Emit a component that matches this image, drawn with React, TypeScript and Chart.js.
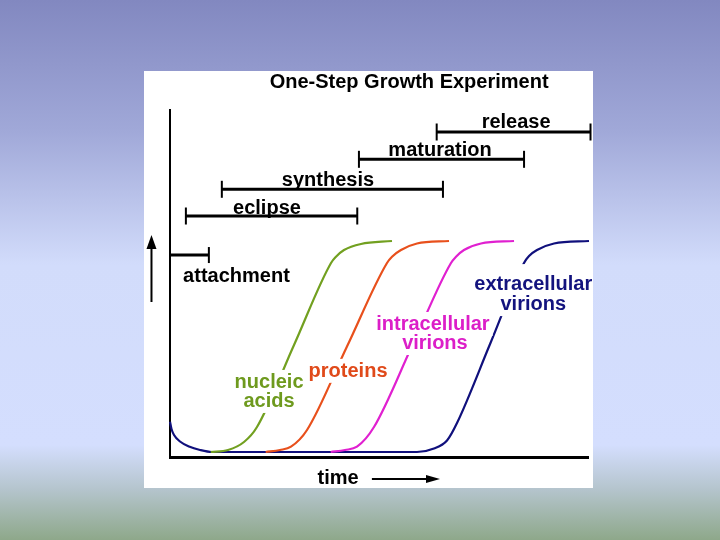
import React, { useEffect, useRef } from "react";
import { Chart, registerables } from "chart.js";

Chart.register(...registerables);

// ---- Curves (time, relative amount) ----
const nucleicTime = [9.74, 13.88, 17.7, 20.81, 29.67, 38.52, 39.71, 41.63, 45.69, 53.11];
const nucleicLevel = [1.44, 2.02, 4.32, 8.65, 32.28, 55.91, 57.72, 59.65, 61.38, 62.25];

const proteinTime = [22.89, 26.32, 28.95, 32.78, 42.34, 51.91, 53.11, 55.26, 59.09, 66.75];
const proteinLevel = [1.44, 2.02, 2.97, 7.78, 31.84, 55.91, 57.72, 59.65, 61.53, 62.25];

const intraTime = [38.44, 41.87, 44.74, 48.8, 58.01, 67.22, 68.42, 70.33, 74.4, 82.3];
const intraLevel = [1.44, 2.02, 2.97, 8.65, 32.28, 55.91, 57.72, 59.65, 61.53, 62.25];

const extraTime = [0, 0.36, 0.96, 2.39, 4.55, 7.18, 10.05, 59.09, 63.16, 66.27, 68.66, 76.67, 84.69, 85.89, 87.8, 91.87, 100.24];
const extraLevel = [10.17, 8.07, 6.34, 4.47, 3.03, 2.02, 1.44, 1.44, 2.45, 4.76, 9.8, 32.85, 55.91, 57.93, 59.65, 61.53, 62.25];

// ---- Phases ----
const phaseNames = ["attachment", "eclipse", "synthesis", "maturation", "release"];
const phaseStart = [0, 3.8, 12.4, 45.2, 63.8];
const phaseEnd = [9.3, 44.8, 65.3, 84.7, 100.6];
const phaseLevel = [58.2, 69.45, 77.15, 85.79, 93.66];

// ---- Text ----
const titleText = "One-Step Growth Experiment";
const axisText = "time";
const seriesNames = ["nucleic\nacids", "proteins", "intracellular\nvirions", "extracellular\nvirions"];

const zip = (xs: number[], ys: number[]) => xs.map((x, i) => ({ x, y: ys[i] }));

// label anchors (center x, baseline y) in data units
const phaseLabelPos = [
  { x: 15.9, y: 50.4 },
  { x: 23.2, y: 70.0 },
  { x: 37.8, y: 78.1 },
  { x: 64.6, y: 86.7 },
  { x: 82.8, y: 94.8 },
];
const seriesLabelPos = [
  { x: 23.7, y: 19.9, color: "#6e9a1e" },
  { x: 42.6, y: 23.1, color: "#e04a1a" },
  { x: 62.9, y: 36.6, color: "#dc1ec8" },
  { x: 86.9, y: 48.1, color: "#13137e" },
];

const FONT = 'bold 20px "Liberation Sans", Arial, sans-serif';

const overlayPlugin = {
  id: "overlay",
  afterDatasetsDraw(chart: any) {
    const ctx = chart.ctx as CanvasRenderingContext2D;
    const xs = chart.scales.x;
    const ys = chart.scales.y;
    const px = (v: number) => xs.getPixelForValue(v);
    const py = (v: number) => ys.getPixelForValue(v);
    ctx.save();
    ctx.font = FONT;
    ctx.textAlign = "center";
    ctx.textBaseline = "alphabetic";

    // series labels with white boxes
    seriesNames.forEach((name, i) => {
      const pos = seriesLabelPos[i];
      const lines = name.split("\n");
      lines.forEach((ln, j) => {
        const cx = px(pos.x) + (j === 1 && i === 2 ? 2 : 0);
        const by = py(pos.y) + j * (i === 3 ? 20 : 19);
        const w = ctx.measureText(ln).width;
        ctx.fillStyle = "#ffffff";
        ctx.fillRect(cx - w / 2 - 3, by - (i === 3 && j === 0 ? 26 : 18), w + 6, i === 3 && j === 0 ? 32 : 24);
      });
      lines.forEach((ln, j) => {
        const cx = px(pos.x) + (j === 1 && i === 2 ? 2 : 0);
        const by = py(pos.y) + j * (i === 3 ? 20 : 19);
        ctx.fillStyle = pos.color;
        ctx.fillText(ln, cx, by);
      });
    });

    // phase labels
    ctx.fillStyle = "#000";
    phaseNames.forEach((n, i) => {
      ctx.fillText(n, px(phaseLabelPos[i].x), py(phaseLabelPos[i].y));
    });

    // title
    ctx.fillText(titleText, px(57.2), py(106.3));

    // time label + arrow
    ctx.fillText(axisText, px(40.2), py(-7.8));
    const ay = py(-6.34);
    const ax1 = px(48.3);
    const ax2 = px(64.6);
    ctx.strokeStyle = "#000";
    ctx.lineWidth = 2;
    ctx.beginPath();
    ctx.moveTo(ax1, ay);
    ctx.lineTo(ax2 - 8, ay);
    ctx.stroke();
    ctx.beginPath();
    ctx.moveTo(ax2, ay);
    ctx.lineTo(ax2 - 14, ay - 4);
    ctx.lineTo(ax2 - 14, ay + 4);
    ctx.closePath();
    ctx.fill();

    // up arrow
    const ux = px(-4.43);
    const uy1 = py(44.67);
    const uy2 = py(63.98);
    ctx.beginPath();
    ctx.moveTo(ux, uy1);
    ctx.lineTo(ux, uy2 + 10);
    ctx.stroke();
    ctx.beginPath();
    ctx.moveTo(ux, uy2);
    ctx.lineTo(ux - 5, uy2 + 14);
    ctx.lineTo(ux + 5, uy2 + 14);
    ctx.closePath();
    ctx.fill();
    ctx.restore();
  },
};

export default function App() {
  const ref = useRef<HTMLCanvasElement | null>(null);

  useEffect(() => {
    if (!ref.current) return;
    const curve = (data: any, color: string) => ({
      data,
      borderColor: color,
      backgroundColor: color,
      borderWidth: 2.2,
      pointRadius: 0,
      cubicInterpolationMode: "monotone" as const,
      fill: false,
      clip: false as any,
    });
    const phaseSets = phaseNames.map((n, i) => ({
      label: n,
      data: [
        { x: phaseStart[i], y: phaseLevel[i] },
        { x: phaseEnd[i], y: phaseLevel[i] },
      ],
      borderColor: "#000",
      backgroundColor: "#000",
      borderWidth: 3,
      pointStyle: "line" as const,
      rotation: 90,
      pointRadius: i === 0 ? [0, 8] : [8.5, 8.5],
      pointBorderWidth: 2,
      pointBorderColor: "#000",
      clip: false as any,
    }));
    const chart = new Chart(ref.current, {
      type: "line",
      data: {
        datasets: [
          ...phaseSets,
          curve(zip(nucleicTime, nucleicLevel), "#72a020"),
          curve(zip(proteinTime, proteinLevel), "#e8501c"),
          curve(zip(intraTime, intraLevel), "#e020d0"),
          curve(zip(extraTime, extraLevel), "#10107c"),
        ],
      },
      options: {
        animation: false,
        responsive: false,
        devicePixelRatio: 1,
        events: [],
        layout: { autoPadding: false, padding: { left: 26, right: 5, top: 39, bottom: 31 } },
        plugins: { legend: { display: false }, tooltip: { enabled: false }, title: { display: false } },
        scales: {
          x: {
            type: "linear",
            min: 0,
            max: 100,
            grid: { display: false, drawTicks: false },
            ticks: { display: false },
            border: { display: true, color: "#000", width: 3 },
          },
          y: {
            type: "linear",
            min: 0,
            max: 100,
            grid: { display: false, drawTicks: false },
            ticks: { display: false },
            border: { display: true, color: "#000", width: 2 },
          },
        },
      },
      plugins: [overlayPlugin],
    });
    return () => chart.destroy();
  }, []);

  return (
    <div
      style={{
        position: "fixed",
        left: 0,
        top: 0,
        width: 720,
        height: 540,
        background:
          "linear-gradient(to bottom, #8288c0 0px, #a0a8d8 130px, #d2dcfb 265px, #d4defe 445px, #b4c4cc 490px, #8ea88a 540px)",
      }}
    >
      <div style={{ position: "absolute", left: 144, top: 71, width: 449, height: 417, background: "#fff" }}>
        <canvas ref={ref} width={449} height={417} style={{ display: "block" }} />
      </div>
    </div>
  );
}
